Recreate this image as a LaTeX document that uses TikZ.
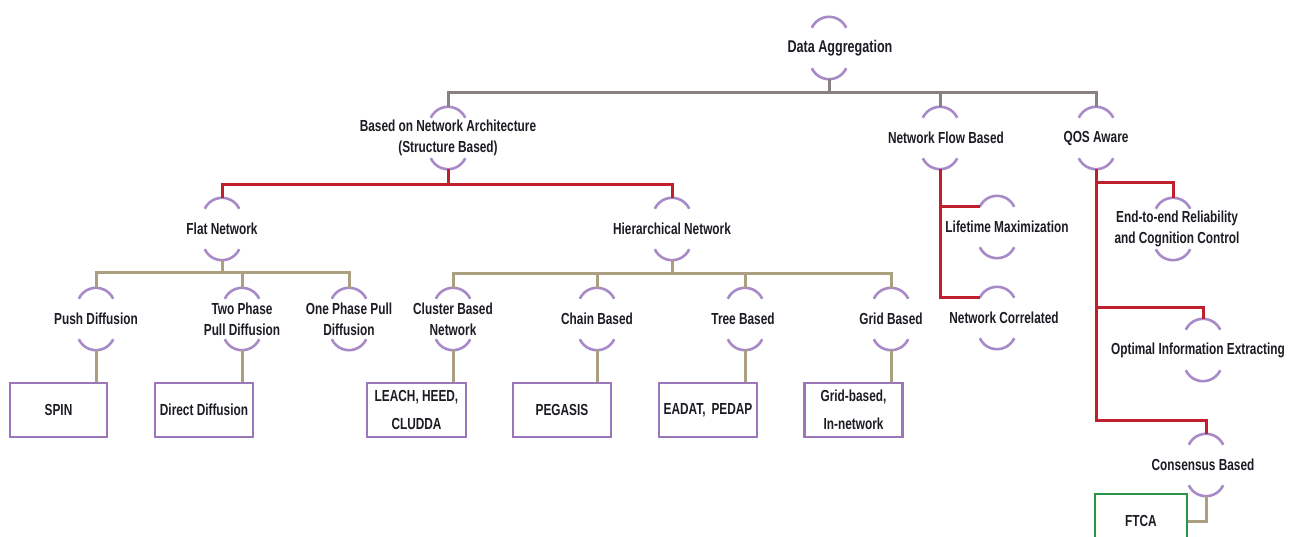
\documentclass[tikz,border=0pt]{standalone}
\usepackage{fontspec}
\setmainfont{Liberation Sans}[FakeStretch=0.74]
\usetikzlibrary{backgrounds}

\definecolor{greyline}{RGB}{137,128,128}
\definecolor{redline}{RGB}{192,32,45}
\definecolor{tanline}{RGB}{170,160,128}
\definecolor{arcpurple}{RGB}{168,138,200}
\definecolor{boxpurple}{RGB}{155,118,185}
\definecolor{boxgreen}{RGB}{40,150,72}
\definecolor{txt}{RGB}{28,28,36}

% a label with a cap arc above it and a cup arc below it
\newcommand\hubnode[4][0]{%
  \node[hub,label={[lbl,xshift=#1pt]center:{#4}}] (#2) at (#3) {};}

\begin{document}
\begin{tikzpicture}[x=1pt,y=-1pt,
  hub/.style={rectangle,minimum width=36pt,minimum height=62pt,inner sep=0pt},
  lbl/.style={font=\bfseries\fontsize{16}{21}\selectfont,text=txt,align=center,inner sep=0pt},
  leaf/.style={draw=boxpurple,line width=2.5pt,minimum height=54pt,inner sep=0pt,
    align=center,text=txt,font=\bfseries\fontsize{16}{28}\selectfont},
  arcline/.style={draw=arcpurple,line width=2.6pt},
  gconn/.style={draw=greyline,line width=3pt},
  rconn/.style={draw=redline,line width=3pt},
  tconn/.style={draw=tanline,line width=3pt}]

\clip (0,0) rectangle (1290,537);

% level 0 and 1
\node[hub,label={[lbl,xshift=11pt,font=\bfseries\fontsize{17}{21}\selectfont]center:Data Aggregation}] (agg) at (829,48) {};
\hubnode{bna}{448,138}{Based on Network Architecture\\(Structure Based)}
\hubnode[6]{nfb}{940,138}{Network Flow Based}
\hubnode{qos}{1096,138}{QOS Aware}

% structure based branch
\hubnode{flat}{222,229}{Flat Network}
\hubnode{hier}{672,229}{Hierarchical Network}
\hubnode{push}{96,319}{Push Diffusion}
\hubnode{two}{242,319}{Two Phase\\Pull Diffusion}
\hubnode{one}{349,319}{One Phase Pull\\Diffusion}
\hubnode{clus}{453,319}{Cluster Based\\Network}
\hubnode{chain}{597,319}{Chain Based}
\hubnode[-2]{tree}{745,319}{Tree Based}
\hubnode{grid}{891,319}{Grid Based}

% network flow branch
\hubnode[10]{life}{997,227}{Lifetime Maximization}
\hubnode[7]{ncor}{997,318}{Network Correlated}

% QoS branch
\hubnode[4]{e2e}{1173,229}{End-to-end Reliability\\and Cognition Control}
\hubnode[-5]{opt}{1203,350}{Optimal Information Extracting}
\hubnode[-3]{cons}{1206,465}{Consensus Based}

% protocol boxes
\node[leaf,minimum width=97pt] (spin) at (58.5,410) {SPIN};
\node[leaf,minimum width=98pt] (ddif) at (204,410) {Direct Diffusion};
\node[leaf,minimum width=99pt] (leach) at (416.5,410) {LEACH, HEED,\\CLUDDA};
\node[leaf,minimum width=98pt] (pegasis) at (562,410) {PEGASIS};
\node[leaf,minimum width=98pt] (eadat) at (708,410) {EADAT,\, PEDAP};
\node[leaf,minimum width=98pt] (gridb) at (853.5,410) {Grid-based,\\In-network};
\node[leaf,draw=boxgreen,minimum width=92pt] (ftca) at (1141,521) {FTCA};

\begin{scope}[on background layer]
  % arcs around every label
  \foreach \n in {agg,bna,nfb,qos,flat,hier,push,two,one,clus,chain,tree,grid,life,ncor,e2e,opt,cons} {
    \draw[arcline] ([yshift=-19pt]\n.north) ++(155:19pt) arc[start angle=155,end angle=25,radius=19pt];
    \draw[arcline] ([yshift=19pt]\n.south) ++(205:19pt) arc[start angle=205,end angle=335,radius=19pt];
  }

  % top level
  \foreach \c in {bna,nfb,qos}
    \draw[gconn] (agg.south) -- ++(0,13) -| (\c.north);

  % structure based
  \foreach \c in {flat,hier}
    \draw[rconn] (bna.south) -- ++(0,15) -| (\c.north);
  \foreach \c in {push,two,one}
    \draw[tconn] (flat.south) -- ++(0,12) -| (\c.north);
  \foreach \c in {clus,chain,tree,grid}
    \draw[tconn] (hier.south) -- ++(0,13) -| (\c.north);
  \foreach \a/\b in {push/spin,two/ddif,clus/leach,chain/pegasis,tree/eadat,grid/gridb}
    \draw[tconn] (\a.south) -- (\a.south |- \b.north);

  % network flow based
  \draw[rconn] (nfb.south) |- ([xshift=-17pt,yshift=-11pt]life.north);
  \draw[rconn] (nfb.south) |- ([xshift=-17pt,yshift=-11pt]ncor.north);

  % QoS aware
  \draw[rconn] (qos.south) -- ++(0,251) -| (cons.north);
  \draw[rconn] (qos.south) -- ++(0,13) -| (e2e.north);
  \draw[rconn] (qos.south) -- ++(0,138) -| (opt.north);
  \draw[tconn] (cons.south) |- (ftca.east);
\end{scope}
\end{tikzpicture}
\end{document}
